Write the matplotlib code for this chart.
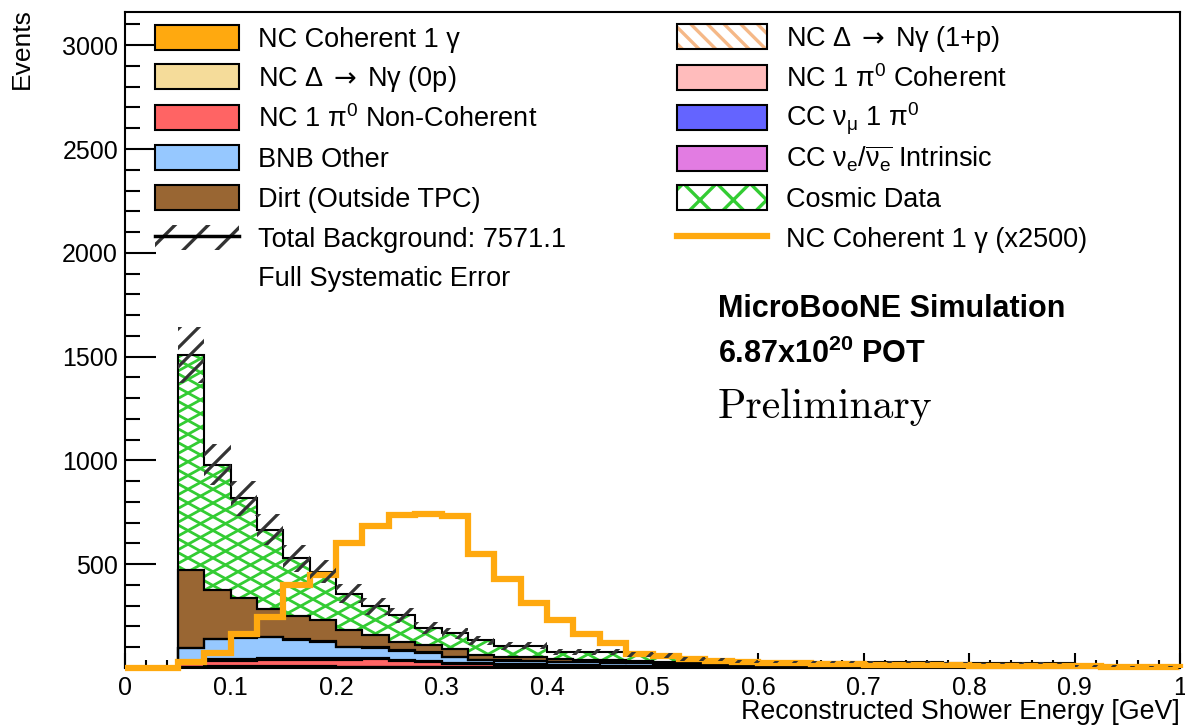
import numpy as np
import matplotlib
matplotlib.use("Agg")
import matplotlib.pyplot as plt
from matplotlib.patches import Patch
from matplotlib.lines import Line2D
from matplotlib.collections import LineCollection
from matplotlib.ticker import MultipleLocator

plt.rcParams['font.family'] = ['Liberation Sans', 'DejaVu Sans']
plt.rcParams['mathtext.fontset'] = 'custom'
plt.rcParams['mathtext.rm'] = 'Liberation Sans'
plt.rcParams['mathtext.it'] = 'Liberation Sans:italic'
plt.rcParams['mathtext.bf'] = 'Liberation Sans:bold'
plt.rcParams['mathtext.sf'] = 'DejaVu Sans'
plt.rcParams['hatch.linewidth'] = 2.4

# 40 bins of 0.025 GeV between 0 and 1
edges = np.linspace(0.0, 1.0, 41)

# signal, drawn scaled x2500 as the orange line
signal_x2500 = [0, 0, 30, 73, 164, 244, 399, 450, 600, 685, 738, 740, 732, 551, 428, 314,
                230, 165, 122, 68, 60, 45, 35, 28, 25, 22, 20, 18, 16, 15, 14, 13,
                12, 11, 10, 9, 8, 7, 6, 5]
nc_delta_1p = [0, 0, 1, 1.5, 2, 2, 2, 2, 2, 1.5, 1.5, 1.5, 1, 1, 1, 1,
               1, 0.8, 0.8, 0.6, 0.6, 0.5, 0.5, 0.4] + [0.3] * 16
nc_delta_0p = [0, 0, 2, 3, 3, 3, 3, 3, 2.5, 2.5, 2, 2, 1.5, 1.5, 1.5, 1,
               1, 1, 1, 0.8, 0.8, 0.6, 0.6, 0.5] + [0.4] * 16
nc_pi0_coh = [0, 0, 2, 3, 3, 3, 2.5, 2.5, 2, 2, 1.5, 1.5, 1, 1, 1, 1,
              0.8, 0.8, 0.6, 0.6, 0.5, 0.5, 0.4, 0.4] + [0.2] * 16
nc_pi0_noncoh = [0, 0, 22, 28, 28, 30, 32, 30, 32, 35, 28, 22, 17, 15, 13, 12,
                 8, 7, 6, 5, 5, 4, 3, 3, 2, 2, 2, 2, 1.5, 1.5, 1.5, 1,
                 1, 1, 1, 1, 1, 1, 0.5, 0.5]
cc_numu_pi0 = [0, 0, 6, 8, 9, 9, 9, 9, 9, 8, 7, 6, 5, 5, 4, 4,
               4, 3, 3, 3, 2, 2, 2, 2, 2, 2, 1.5, 1.5, 1.5, 1.5, 1, 1,
               1, 1, 1, 1, 1, 1, 1, 1]
bnb_other = [0, 0, 64, 94, 100, 100, 86, 79, 52, 49, 43, 39, 25, 15, 14, 13,
             14, 14, 14, 13, 11, 9, 8, 7, 6, 6, 6, 5, 5, 5, 5, 4,
             4, 4, 4, 3, 3, 3, 2, 2]
cc_nue = [0, 0, 1, 2, 3, 3, 3, 3, 3, 3, 3, 3, 3, 2, 2, 2,
          2, 2, 2, 2, 2, 2, 2, 2, 2, 2, 2, 2, 2, 2, 2, 2,
          1.5, 1.5, 1.5, 1.5, 1, 1, 1, 1]
dirt = [0, 0, 376, 237, 188, 134, 112, 103, 78, 57, 37, 36, 36, 23, 17, 17,
        13, 12, 12, 10, 9, 8, 7, 6, 6, 6, 5, 5, 5, 5, 5, 4,
        4, 4, 4, 4, 3, 3, 2, 2]
cosmic = [0, 0, 1033, 603, 481, 383, 280, 233, 177, 138, 130, 82, 77, 69, 53, 56,
          35, 36, 37, 30, 29, 17, 17, 10, 10, 10, 11, 11, 12, 12, 12, 13,
          10, 10, 11, 11, 0, 0, 0, 0]
sys_err = [0, 0, 135, 100, 85, 75, 65, 55, 45, 40, 35, 28, 25, 22, 18, 18,
           14, 14, 14, 12, 10, 8, 8, 6, 5, 5, 5, 5, 5, 5, 5, 4,
           4, 4, 4, 4, 3, 3, 3, 3]

total_label = "Total Background: 7571.1"
xtick_vals = [0, 0.1, 0.2, 0.3, 0.4, 0.5, 0.6, 0.7, 0.8, 0.9, 1.0]
xtick_labels = ["0", "0.1", "0.2", "0.3", "0.4", "0.5", "0.6", "0.7", "0.8", "0.9", "1"]
ytick_vals = [500, 1000, 1500, 2000, 2500, 3000]

orange = "#ffa90f"
green = "#33cc33"
stack_vals = [np.array(signal_x2500) / 2500.0, nc_delta_1p, nc_delta_0p, nc_pi0_coh,
              nc_pi0_noncoh, cc_numu_pi0, bnb_other, cc_nue, dirt, cosmic]
stack_colors = [orange, "#f5b887", "#f5dc9a", "#ffbcbc", "#ff6464", "#6464ff",
                "#96c8ff", "#e27ce2", "#996633", "white"]
stack_hatch = [None, "\\\\", None, None, None, None, None, None, None, None]

fig = plt.figure(figsize=(11.85, 7.28), dpi=100)
ax = fig.add_axes([125 / 1185, 60 / 728, 1055 / 1185, 656 / 728])
axw, axh = 1055.0, 656.0   # axes size in pixels, for the hand-made hatches


def hatch_lines(period, slopes):
    # straight lines over the whole axes, given in axes fraction
    segs = []
    for c in np.arange(-axh / 0.5, axw + axh / 0.5, period):
        for s in slopes:
            segs.append([(c / axw, 0), ((c + axh / s) / axw, 1)])
    return segs


bottom = np.zeros(len(edges) - 1)
last_fill = None
for vals, fc, hatch in zip(stack_vals, stack_colors, stack_hatch):
    top = bottom + np.asarray(vals, dtype=float)
    if hatch:
        ax.stairs(top, edges, baseline=bottom, fill=True, facecolor="white",
                  edgecolor=fc, hatch=hatch, linewidth=0, zorder=2)
    else:
        last_fill = ax.stairs(top, edges, baseline=bottom, fill=True, facecolor=fc,
                              linewidth=0, zorder=2)
    ax.stairs(top, edges, baseline=bottom, fill=True, facecolor="none",
              edgecolor="black", linewidth=1.5, zorder=2.2)
    bottom = top
total = bottom
err = np.asarray(sys_err, dtype=float)

# diamond cross-hatch of the cosmic fill, clipped to that fill
lc = LineCollection(hatch_lines(25, [0.55, -0.55]), colors=green, linewidths=2.0,
                    transform=ax.transAxes, zorder=2.1)
lc.set_clip_path(last_fill)
ax.add_collection(lc, autolim=False)

ax.stairs(signal_x2500, edges, color=orange, linewidth=4.5, zorder=3, clip_on=False)

# systematic error band: sparse dark diagonal hatch
band = ax.stairs(total + err, edges, baseline=total - err, fill=True, facecolor="none",
                 linewidth=0, zorder=4)
lc2 = LineCollection(hatch_lines(19, [1.0]), colors="#333333", linewidths=2.3,
                     transform=ax.transAxes, zorder=4)
lc2.set_clip_path(band)
ax.add_collection(lc2, autolim=False)

ax.set_xlim(0, 1)
ax.set_ylim(0, 3160)
ax.set_xticks(xtick_vals, xtick_labels)
ax.set_yticks(ytick_vals)
ax.xaxis.set_minor_locator(MultipleLocator(0.02))
ax.yaxis.set_minor_locator(MultipleLocator(100))
ax.tick_params(which="both", direction="in", top=False, right=False, labelsize=18, width=1.5)
ax.tick_params(axis="y", which="major", length=22, pad=5)
ax.tick_params(axis="y", which="minor", length=11)
ax.tick_params(axis="x", which="major", length=11, pad=6)
ax.tick_params(axis="x", which="minor", length=5.5)
for s in ax.spines.values():
    s.set_linewidth(1.5)

fig.text(1180 / 1185, 1 - 719 / 728, "Reconstructed Shower Energy [GeV]",
         ha="right", va="baseline", fontsize=19.3)
fig.text(21.5 / 1185, 1 - 8 / 728, "Events", rotation=90, ha="center", va="top", fontsize=19)

fig.text(718 / 1185, 1 - 317 / 728, "MicroBooNE Simulation", fontsize=22,
         fontweight="bold", va="baseline")
fig.text(718 / 1185, 1 - 363 / 728, r"6.87x10$\mathbf{^{20}}$ POT", fontsize=22,
         fontweight="bold", va="baseline")
fig.text(718 / 1185, 1 - 418 / 728, "Preliminary", fontsize=30, family="cmr10",
         va="baseline")

# legend: two columns, one entry per row
h_left = [
    Patch(facecolor=orange, edgecolor="black", linewidth=1.5),
    Patch(facecolor="#f5dc9a", edgecolor="black", linewidth=1.5),
    Patch(facecolor="#ff6464", edgecolor="black", linewidth=1.5),
    Patch(facecolor="#96c8ff", edgecolor="black", linewidth=1.5),
    Patch(facecolor="#996633", edgecolor="black", linewidth=1.5),
    (Patch(facecolor="none", edgecolor="#333333", hatch="/", linewidth=0),
     Line2D([], [], color="black", linewidth=2.5)),
    Patch(facecolor="none", edgecolor="none"),
]
l_left = ["NC Coherent 1 γ", r"NC Δ$\;\mathsf{\rightarrow}\;$Nγ (0p)",
          r"NC 1 π$\mathregular{^{0}}$ Non-Coherent", "BNB Other",
          "Dirt (Outside TPC)", total_label, "Full Systematic Error"]
h_right = [
    (Patch(facecolor="white", edgecolor="#f5b887", hatch="\\\\", linewidth=0),
     Patch(facecolor="none", edgecolor="black", linewidth=1.5)),
    Patch(facecolor="#ffbcbc", edgecolor="black", linewidth=1.5),
    Patch(facecolor="#6464ff", edgecolor="black", linewidth=1.5),
    Patch(facecolor="#e27ce2", edgecolor="black", linewidth=1.5),
    (Patch(facecolor="white", edgecolor=green, hatch="x", linewidth=0),
     Patch(facecolor="none", edgecolor="black", linewidth=1.5)),
    Line2D([], [], color=orange, linewidth=4.5),
]
l_right = [r"NC Δ$\;\mathsf{\rightarrow}\;$Nγ (1+p)", r"NC 1 π$\mathregular{^{0}}$ Coherent",
           r"CC ν$\mathregular{_{μ}}$ 1 π$\mathregular{^{0}}$",
           r"CC ν$\mathregular{_{e}}$/$\mathregular{\overline{ν_{e}}}$ Intrinsic",
           "Cosmic Data", "NC Coherent 1 γ (x2500)"]

row_y = [39, 79, 119, 159, 199, 239, 278]
leg_kw = dict(loc="center left", frameon=False, fontsize=19.5, handleheight=1.03,
              handletextpad=0.7, borderpad=0, borderaxespad=0,
              bbox_transform=fig.transFigure)
for h, l, y in zip(h_left, l_left, row_y):
    fig.legend([h], [l], bbox_to_anchor=(155 / 1185, 1 - y / 728), handlelength=3.11, **leg_kw)
for h, l, y in zip(h_right, l_right, row_y):
    fig.legend([h], [l], bbox_to_anchor=(677 / 1185, 1 - y / 728), handlelength=3.33, **leg_kw)

fig.savefig("out.png", dpi=100)
